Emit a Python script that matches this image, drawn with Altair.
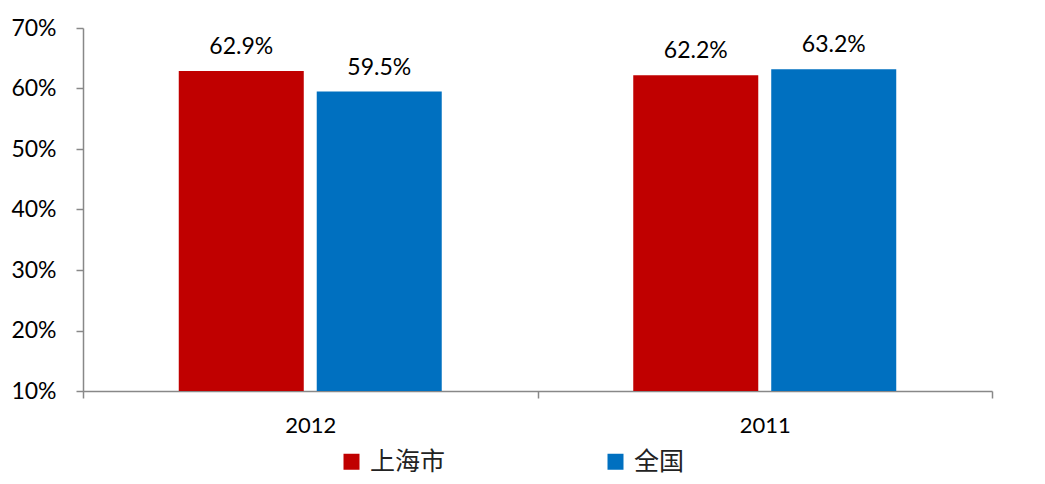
import altair as alt
import pandas as pd

years = ["2012", "2011"]
series = ["上海市", "全国"]
shanghai = [0.629, 0.622]
national = [0.595, 0.632]
colors = ["#C00000", "#0070C0"]

rows = []
for i, y in enumerate(years):
    rows.append({"year": y, "series": series[0], "value": shanghai[i]})
    rows.append({"year": y, "series": series[1], "value": national[i]})
df = pd.DataFrame(rows)

num_font = "Lato"
cjk_font = "Noto Sans CJK SC"

x = alt.X("year:N", sort=years, title=None,
          scale=alt.Scale(paddingInner=0, paddingOuter=0),
          axis=alt.Axis(labelAngle=0, tickBand="extent", labelFont=num_font,
                        labelFontSize=22, labelColor="#000000", labelPadding=17,
                        domainColor="#888888", tickColor="#888888", tickSize=7,
                        domainWidth=1.5, tickWidth=1.5, grid=False))
xo = alt.XOffset("series:N", sort=series,
                 scale=alt.Scale(paddingInner=0.094, paddingOuter=0.694))
y = alt.Y("value:Q", title=None,
          scale=alt.Scale(domain=[0.1, 0.7], nice=False, zero=False),
          axis=alt.Axis(format=".0%", values=[0.1, 0.2, 0.3, 0.4, 0.5, 0.6, 0.7],
                        labelFont=num_font, labelFontSize=23, labelColor="#000000",
                        labelPadding=20, domainColor="#888888", tickColor="#888888",
                        tickSize=7, domainWidth=1.5, tickWidth=1.5, grid=False))
color = alt.Color("series:N", sort=series,
                  scale=alt.Scale(domain=series, range=colors),
                  legend=alt.Legend(title=None, orient="none", direction="horizontal",
                                    legendX=256, legendY=421, symbolType="square",
                                    symbolSize=256, symbolStrokeWidth=0,
                                    symbolOpacity=1, labelFont=cjk_font,
                                    labelFontSize=25, labelColor="#222222",
                                    labelOffset=6, columnPadding=157, padding=0))

bars = alt.Chart(df).mark_bar(opacity=1).encode(
    x=x, xOffset=xo, y=y, y2=alt.datum(0.1), color=color)
labels = alt.Chart(df).mark_text(baseline="alphabetic", dy=-17, font=num_font,
                                 fontSize=23, color="#000000").encode(
    x=x, xOffset=xo, y=y, text=alt.Text("value:Q", format=".1%"))

chart = alt.layer(bars, labels).properties(
    width=909, height=363,
    autosize=alt.AutoSizeParams(type="none"),
    padding={"left": 75, "top": 20, "right": 36, "bottom": 85},
    background="#ffffff",
).configure_view(stroke=None)

chart.save("out.html", embed_options={"renderer": "svg", "actions": False})
